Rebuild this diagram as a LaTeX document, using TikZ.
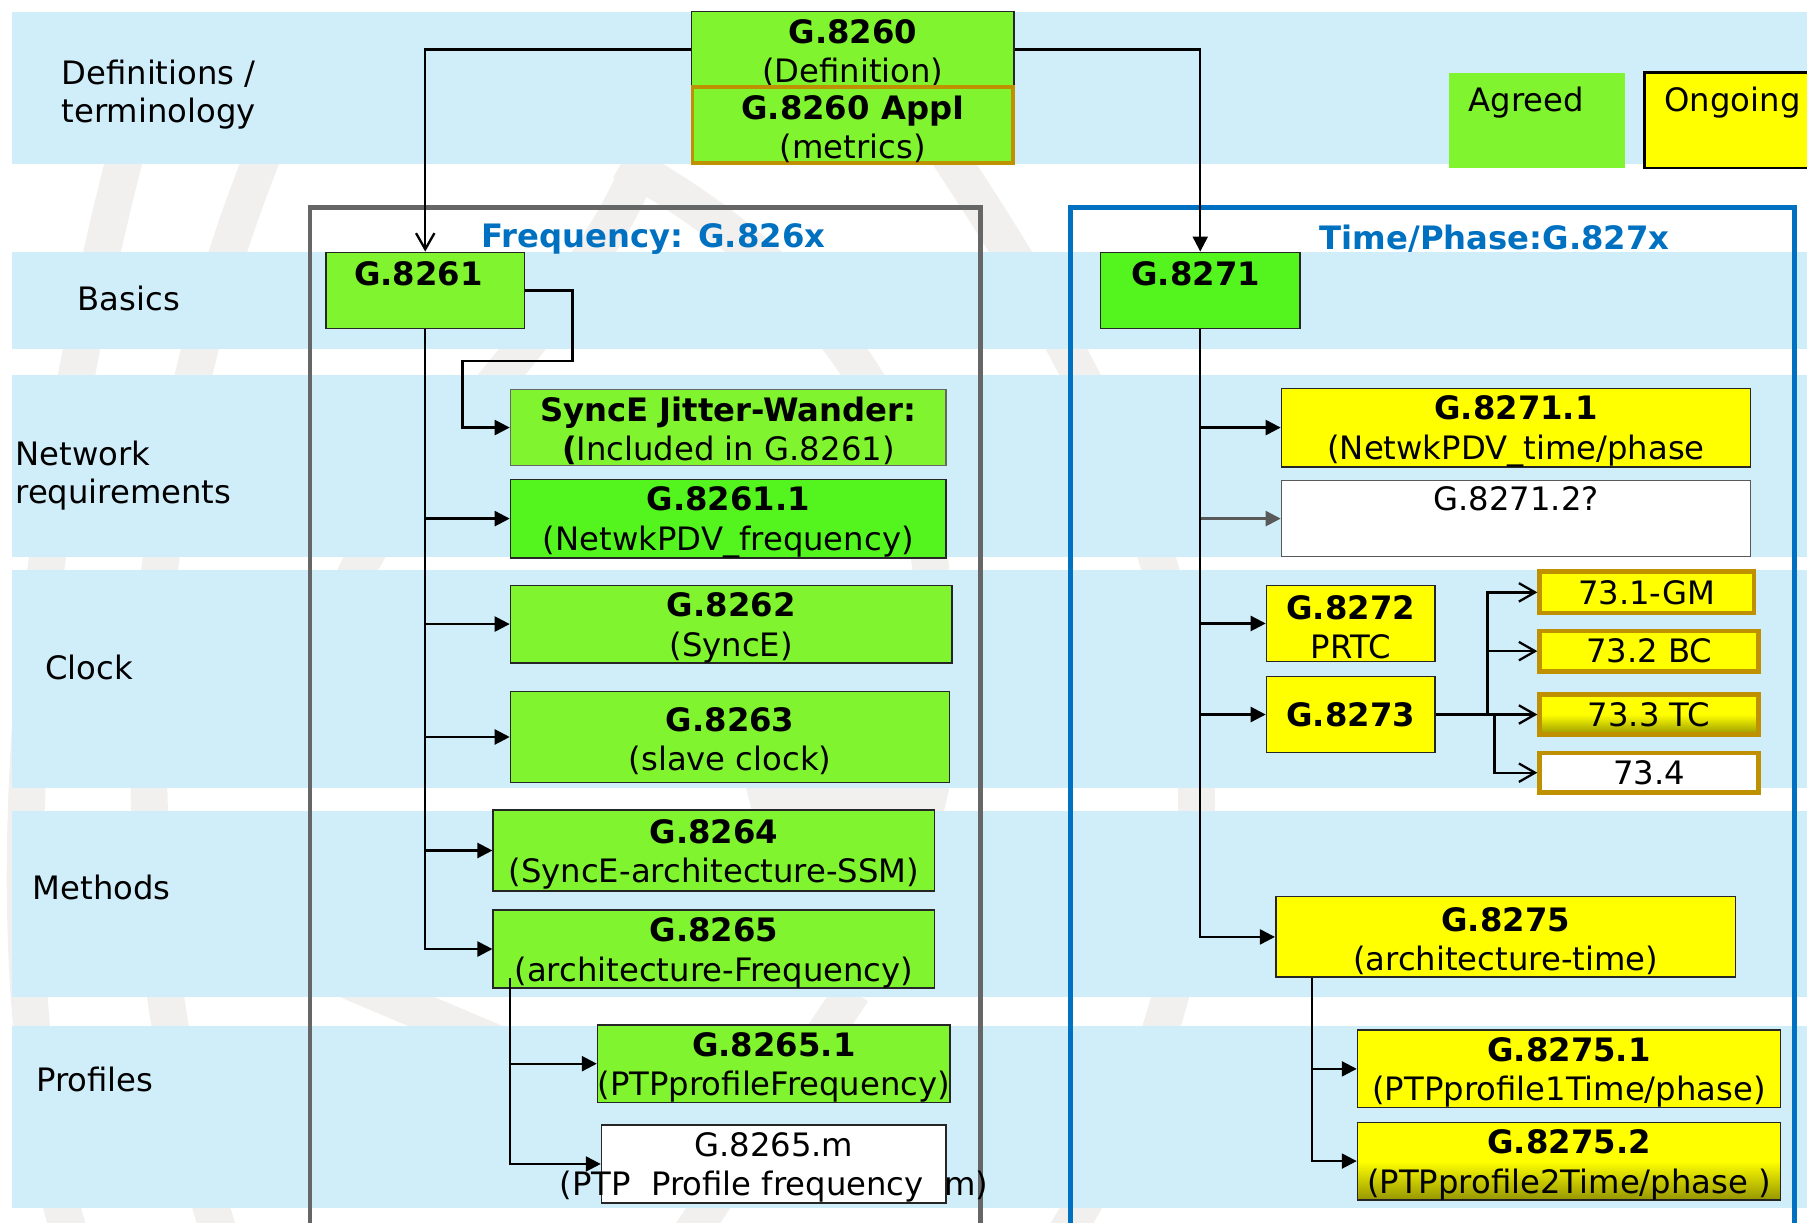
\documentclass[tikz,border=0pt]{standalone}
\usepackage{fontspec}
\setmainfont{DejaVu Sans}
\usepackage{tikz}
\usetikzlibrary{positioning, arrows.meta, calc}

\definecolor{bandblue}{RGB}{208,238,250}
\definecolor{agreed}{RGB}{128,244,46}
\definecolor{agreedhi}{RGB}{84,245,30}
\definecolor{ongoing}{RGB}{255,255,0}
\definecolor{tcdark}{RGB}{150,150,0}
\definecolor{goldline}{RGB}{191,144,0}
\definecolor{itublue}{RGB}{0,112,192}
\definecolor{framegrey}{RGB}{102,102,102}
\definecolor{markgrey}{RGB}{241,240,238}

\newcommand\boxfont{\fontsize{14}{17}\selectfont}
\newcommand\rowfont{\fontsize{14}{16.5}\selectfont}
\newcommand\toprule{\rule{0pt}{13.7pt}}
\newcommand\hd[1]{\toprule\textbf{#1}}

\tikzset{
  doc/.style={draw=black!85, line width=0.7pt, align=center, inner sep=0pt, font=\boxfont},
  agreedbox/.style={doc, fill=agreed},
  agreedhibox/.style={doc, fill=agreedhi},
  ongoingbox/.style={doc, fill=ongoing},
  openbox/.style={doc, fill=white},
  subbox/.style={doc, draw=goldline, line width=2pt, fill=ongoing},
  rowlabel/.style={anchor=west, align=left, inner sep=0pt, font=\rowfont},
  frametitle/.style={font=\boxfont\bfseries, text=itublue, inner sep=0pt},
  logostroke/.style={markgrey, line width=16pt},
  arr/.style={-{Triangle[length=6.5pt,width=6.5pt]}, line width=1pt},
  openarr/.style={-{Straight Barb[length=7pt,width=8pt]}, line width=1pt},
}

\begin{document}
\begin{tikzpicture}[x=0.5pt, y=-0.5pt]
  \useasboundingbox (0,0) rectangle (1568,1061);

  % Watermark
  \draw[logostroke] (110,130) .. controls (40,400) and (-20,800) .. (60,1070);
  \draw[logostroke] (230,130) .. controls (120,400) and (90,750) .. (190,1070);
  \draw[logostroke] (820,130) .. controls (1000,400) and (1150,700) .. (925,1070);
  \draw[logostroke] (560,130) .. controls (520,260) and (330,420) .. (300,520);
  \draw[logostroke] (540,140) .. controls (700,230) and (800,350) .. (810,520);
  \draw[logostroke] (650,694) .. controls (700,680) and (780,690) .. (820,700);
  \draw[logostroke] (300,850) -- (430,905);
  \draw[logostroke] (740,860) -- (600,1070);

  % Bands
  \foreach \top/\bot in {10/142, 219/303, 325/483, 495/684, 704/865, 890/1048}
  \fill[bandblue] (10,\top) rectangle (1570,\bot);

  % Frames
  \draw[framegrey, line width=2pt] (269,1080) -- (269,180) -- (851,180) -- (851,1080);
  \draw[itublue, line width=2pt] (929,1080) -- (929,180) -- (1557,180) -- (1557,1080);
  \node[frametitle] (freqtitle) at (567,207) {Frequency: G.826x};
  \node[frametitle] (timetitle) at (1297,207) {Time/Phase:G.827x};

  % Row labels
  \node[rowlabel] (rowdef) at (53,82) {Definitions /\\terminology};
  \node[rowlabel] (rowbasics) at (67,259) {Basics};
  \node[rowlabel] (rownet) at (13,413) {Network\\requirements};
  \node[rowlabel] (rowclock) at (39,579) {Clock};
  \node[rowlabel] (rowmethods) at (28,770) {Methods};
  \node[rowlabel] (rowprofiles) at (31,937) {Profiles};

  % Legend
  \fill[agreed] (1257,63) rectangle (1410,146);
  \draw[fill=ongoing, draw=black, line width=1pt] (1427,63) rectangle (1600,146);
  \node[rowlabel] (agreedtxt) at (1274,89) {Agreed};
  \node[rowlabel] (ongoingtxt) at (1444,89) {Ongoing};

  % Nodes
  \node[agreedbox, minimum width=140pt, minimum height=33pt] (g8260) at (740,43)
    {\hd{G.8260}\\(Definition)};
  \node[agreedbox, draw=goldline, line width=1.5pt, minimum width=139pt, minimum height=33pt] (g8260app) at (740,108.5)
    {\hd{G.8260 AppI}\\(metrics)};

  \node[agreedbox, minimum width=86pt, minimum height=33pt,
    label={[font=\boxfont\bfseries, anchor=north, inner sep=4pt, xshift=-3pt]north:G.8261}] (g8261) at (369,252) {};
  \node[agreedbox, draw=black!60, minimum width=189pt, minimum height=33pt] (synce) at (632,371)
    {\hd{SyncE Jitter-Wander:}\\\textbf{(}Included in G.8261)};
  \node[agreedhibox, minimum width=189pt, minimum height=33pt] (g82611) at (632,450)
    {\hd{G.8261.1}\\(NetwkPDV\_frequency)};
  \node[agreedbox, minimum width=191.5pt, minimum height=33.5pt] (g8262) at (634.5,541.5)
    {\hd{G.8262}\\(SyncE)};
  \node[agreedbox, minimum width=190.5pt, minimum height=39.5pt] (g8263) at (633.5,639.5)
    {\hd{G.8263}\\(slave clock)};
  \node[agreedbox, minimum width=191.5pt, minimum height=35pt] (g8264) at (619.5,738)
    {\hd{G.8264}\\(SyncE-architecture-SSM)};
  \node[agreedbox, minimum width=191.5pt, minimum height=33.5pt] (g8265) at (619.5,823.5)
    {\hd{G.8265}\\(architecture-Frequency)};
  \node[agreedbox, minimum width=149.5pt, minimum height=33pt] (g82651) at (671.5,923)
    {\hd{G.8265.1}\\(PTPprofileFrequency)};
  \node[openbox, minimum width=149.5pt, minimum height=33pt] (g8265m) at (671.5,1010)
    {\toprule G.8265.m\\\makebox[0pt][c]{(PTP\ \ Profile frequency\ \ m)}};

  \node[agreedhibox, minimum width=86.5pt, minimum height=33pt,
    label={[font=\boxfont\bfseries, anchor=north, inner sep=4pt, xshift=-2pt]north:G.8271}] (g8271) at (1041.5,252) {};
  \node[ongoingbox, minimum width=203.5pt, minimum height=33pt] (g82711) at (1315.5,371)
    {\hd{G.8271.1}\\(NetwkPDV\_time/phase};
  \node[openbox, draw=black!65, minimum width=203.5pt, minimum height=33pt, text depth=17pt] (g82712) at (1315.5,450)
    {G.8271.2?};
  \node[ongoingbox, minimum width=73pt, minimum height=33pt] (g8272) at (1172,541)
    {\hd{G.8272}\\PRTC};
  \node[ongoingbox, minimum width=73pt, minimum height=33pt, font=\boxfont\bfseries] (g8273) at (1172,620)
    {G.8273};
  \node[subbox, minimum width=93pt, minimum height=18pt] (t731) at (1429,514) {73.1-GM};
  \node[subbox, minimum width=95pt, minimum height=17.5pt] (t732) at (1431,565) {73.2 BC};
  \node[subbox, top color=ongoing, bottom color=tcdark, middle color=ongoing,
    minimum width=95pt, minimum height=17.5pt] (t733) at (1431,620) {73.3 TC};
  \node[subbox, fill=white, minimum width=95pt, minimum height=17pt] (t734) at (1431,670.5) {73.4};
  \node[ongoingbox, minimum width=199.5pt, minimum height=35pt] (g8275) at (1306.5,813)
    {\hd{G.8275}\\(architecture-time)};
  \node[ongoingbox, minimum width=183.5pt, minimum height=32.5pt] (g82751) at (1361.5,927.5)
    {\hd{G.8275.1}\\(PTPprofile1Time/phase)};
  \node[doc, top color=ongoing, bottom color=tcdark, middle color=ongoing,
    minimum width=183.5pt, minimum height=32.5pt] (g82752) at (1361.5,1007.5)
    {\hd{G.8275.2}\\(PTPprofile2Time/phase\ )};

  % Arrows
  \draw[openarr] (g8260.west) -| (g8261.north);
  \draw[arr] (g8260.east) -| (g8271.north);

  \draw[arr] (g8261.east) -- ++(41,0) |- ($(synce.west)+(-41,-58)$) |- (synce.west);
  \foreach \n in {g82611,g8262,g8263,g8264,g8265}
  \draw[arr] (g8261.south) |- (\n.west);
  \foreach \n in {g82651,g8265m}
  \draw[arr] ($(g8265.south west)+(15,-9)$) |- (\n.west);

  \draw[arr, black!65] (g8271.south) |- (g82712.west);
  \foreach \n in {g82711,g8272,g8273,g8275}
  \draw[arr] (g8271.south) |- (\n.west);
  \foreach \n in {t731,t732}
  \draw[openarr] (g8273.east) -- ++(45,0) |- (\n.west);
  \draw[openarr] (g8273.east) -- (t733.west);
  \draw[openarr] (g8273.east) -- ++(51,0) |- (t734.west);
  \foreach \n in {g82751,g82752}
  \draw[arr] ($(g8275.south west)+(32,0)$) |- (\n.west);
\end{tikzpicture}
\end{document}
